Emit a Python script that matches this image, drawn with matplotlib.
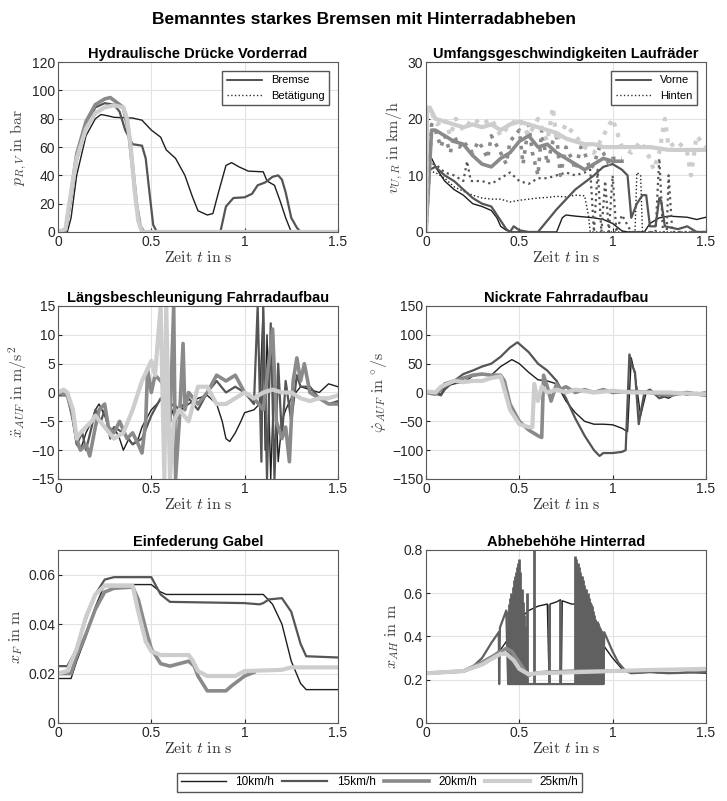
#!/usr/bin/env python3
import matplotlib
matplotlib.use('Agg')
import matplotlib.pyplot as plt
from matplotlib.lines import Line2D
import numpy as np

plt.rcParams['font.family'] = ['Liberation Sans', 'DejaVu Sans']
plt.rcParams['mathtext.fontset'] = 'cm'

# speeds (legend) and styling per run
speeds = ['10km/h', '15km/h', '20km/h', '25km/h']
colors = ['#1e1e1e', '#555555', '#8a8a8a', '#cdcdcd']
widths = [1.0, 1.6, 2.6, 3.0]

# --- Hydraulische Druecke Vorderrad (t, p in bar)
p10 = np.array([[0,0],[0.05,0],[0.07,10],[0.1,40],[0.15,68],[0.2,80],[0.23,83],[0.27,82],[0.3,81],
                [0.4,80.5],[0.45,79],[0.5,72],[0.55,67],[0.58,58],[0.63,52],[0.68,40],[0.72,25],
                [0.75,15],[0.8,12],[0.83,13],[0.86,28],[0.9,47],[0.93,49],[0.97,46],[1.02,43],
                [1.1,42.5],[1.12,36],[1.16,33],[1.19,22],[1.22,10],[1.25,0],[1.5,0]])
p15 = np.array([[0,0],[0.04,0],[0.06,15],[0.1,50],[0.15,75],[0.2,88],[0.25,91],[0.3,90],[0.33,85],
                [0.36,72],[0.38,67],[0.4,62],[0.45,61],[0.47,52],[0.49,28],[0.51,5],[0.53,0],
                [0.87,0],[0.9,18],[0.94,24],[1.0,24.5],[1.04,27],[1.07,33],[1.11,35],[1.15,39],
                [1.18,40],[1.2,37],[1.22,28],[1.25,10],[1.28,3],[1.3,0],[1.5,0]])
p20 = np.array([[0,0],[0.04,1],[0.06,18],[0.1,55],[0.15,78],[0.2,90],[0.25,94],[0.28,95],[0.32,91],
                [0.35,88],[0.38,70],[0.4,45],[0.42,20],[0.44,4],[0.46,0],[1.5,0]])
p25 = np.array([[0,0],[0.04,2],[0.06,20],[0.1,52],[0.15,73],[0.2,84],[0.25,88],[0.3,89.5],[0.35,88],
                [0.37,80],[0.39,60],[0.41,30],[0.43,8],[0.45,0],[1.5,0]])

# --- Umfangsgeschwindigkeiten (t, v in km/h), vorne / hinten
vv10 = np.array([[0,0],[0.01,13.5],[0.03,13],[0.06,11],[0.1,9],[0.15,7.5],[0.2,6.5],[0.25,5],[0.3,4.5],
                 [0.35,3.8],[0.38,2.5],[0.4,1],[0.43,0.3],[0.46,0],[0.7,0],[0.73,2.5],[0.75,3],[0.8,2.8],
                 [0.9,2.5],[0.95,2.2],[1.0,1.5],[1.05,0.2],[1.08,0],[1.17,0],[1.2,1.5],[1.25,2.5],
                 [1.3,2.8],[1.4,2.6],[1.45,2.2],[1.5,2.6]])
vh10 = np.array([[0,0],[0.01,10.8],[0.05,10.5],[0.1,9.5],[0.15,8],[0.2,7.2],[0.25,6.5],[0.3,6],[0.35,5.8],
                 [0.4,5.8],[0.45,5.3],[0.5,5.6],[0.55,5.8],[0.6,6],[0.65,6.1],[0.7,6.3],[0.75,6.2],
                 [0.8,6.5],[0.85,6.4],[0.87,3],[0.88,0],[1.12,0],[1.13,10.5],[1.15,10],[1.16,0],[1.5,0]])
vv15 = np.array([[0,0],[0.02,11],[0.05,11.5],[0.1,10],[0.15,9],[0.2,7.5],[0.25,6],[0.3,5],[0.35,4.5],
                 [0.4,2],[0.43,0.5],[0.45,0],[0.47,1],[0.5,0.3],[0.55,0],[0.6,0],[0.7,4],[0.8,7.5],
                 [0.9,10],[0.95,11.5],[1.0,12],[1.05,11],[1.08,10],[1.1,2.5],[1.13,5],[1.16,6.5],
                 [1.18,6.5],[1.2,1],[1.23,1],[1.25,6],[1.26,5.5],[1.28,1],[1.35,0.5],[1.4,1],[1.45,0],[1.5,0]])
vh15 = np.array([[0,0],[0.02,12],[0.05,12],[0.1,10.5],[0.15,10],[0.2,9],[0.22,12.5],[0.24,9],[0.3,9],
                 [0.35,8.5],[0.4,9.5],[0.45,10.5],[0.5,9],[0.55,8.5],[0.6,9.5],[0.65,9.5],[0.7,10],
                 [0.75,10.5],[0.8,10],[0.85,10.5],[0.88,11],[0.9,0],[0.92,11],[0.94,0],[0.96,9],[0.98,0],
                 [1.0,10],[1.02,0],[1.05,3],[1.1,0],[1.23,0],[1.25,13],[1.27,0],[1.29,0],[1.3,10],
                 [1.32,0],[1.5,0]])
vv20 = np.array([[0,0],[0.03,18],[0.05,18],[0.1,17],[0.15,16],[0.2,15.5],[0.25,13.5],[0.3,12],
                 [0.35,11.5],[0.4,13],[0.45,14],[0.5,16],[0.55,17],[0.6,15],[0.65,15.5],[0.7,14],
                 [0.75,13],[0.8,12],[0.85,11],[0.9,12],[0.95,13],[1.0,12.5],[1.05,12.5]])
vh20 = np.array([[0,0],[0.03,19],[0.05,18],[0.08,15],[0.1,17],[0.13,14],[0.15,17],[0.18,15],[0.2,16],
                 [0.25,14],[0.28,16],[0.3,15],[0.33,13],[0.35,17],[0.4,14],[0.43,12],[0.45,16],
                 [0.5,18],[0.52,12],[0.55,19],[0.57,14],[0.6,10],[0.62,18],[0.65,12],[0.68,16],
                 [0.7,17],[0.72,10],[0.75,15],[0.78,13],[0.8,11],[0.83,15],[0.85,14],[0.88,11],
                 [0.9,12],[0.93,15],[0.95,14],[0.98,12],[1.0,13],[1.05,13]])
vv25 = np.array([[0,0],[0.005,21],[0.02,22],[0.05,20],[0.1,19.5],[0.15,19],[0.2,18.5],[0.25,19],
                 [0.3,18.5],[0.35,19],[0.4,18],[0.45,19],[0.5,19.5],[0.55,19],[0.6,18.5],[0.65,18],
                 [0.7,17.5],[0.75,16.5],[0.8,16],[0.85,15.5],[0.9,15.5],[0.95,15],[1.0,15],[1.1,15],
                 [1.2,15],[1.3,14.5],[1.4,14.5],[1.5,14.5]])
vh25 = np.array([[0,0],[0.005,22],[0.03,21],[0.06,19],[0.1,20],[0.13,17],[0.16,20],[0.2,18],[0.25,20],
                 [0.3,19],[0.35,20],[0.4,17],[0.45,19],[0.5,20],[0.55,17],[0.6,20],[0.65,16],[0.68,22],
                 [0.7,16],[0.75,19],[0.8,17],[0.85,15],[0.9,14],[0.95,17],[1.0,20],[1.02,18],[1.05,15],
                 [1.1,14],[1.15,16],[1.2,13],[1.22,11],[1.25,14],[1.28,20],[1.3,15],[1.35,16],[1.4,14],
                 [1.42,10],[1.45,17],[1.5,15]])

# --- Laengsbeschleunigung (t, a in m/s^2)
a10 = np.array([[0,-0.5],[0.05,-0.5],[0.07,-3],[0.1,-9],[0.12,-10],[0.15,-7],[0.18,-5],[0.2,-3],
                [0.22,-2],[0.25,-4],[0.28,-7],[0.3,-6],[0.33,-8],[0.35,-10],[0.38,-8],[0.4,-9],
                [0.43,-8],[0.45,-6],[0.5,-3],[0.53,-2],[0.57,-0.5],[0.6,-2],[0.63,-5],[0.66,-3],
                [0.7,-2],[0.75,-1],[0.8,-0.5],[0.85,-2],[0.88,-5],[0.9,-8],[0.92,-8.5],[0.95,-7],
                [0.98,-5],[1.0,-3.5],[1.05,-3],[1.08,-2],[1.1,15],[1.11,-10],[1.12,10],[1.14,-15],
                [1.16,5],[1.18,-12],[1.2,-5],[1.22,-3],[1.25,-1],[1.3,1],[1.35,0.5],[1.4,0],
                [1.45,1.5],[1.5,1]])
a15 = np.array([[0,-0.5],[0.05,-0.5],[0.08,-5],[0.1,-9],[0.13,-7],[0.15,-10],[0.18,-6],[0.2,-3],
                [0.23,-5],[0.25,-3],[0.28,-8],[0.3,-6],[0.35,-7],[0.4,-9],[0.45,-8],[0.5,-4],
                [0.55,-1],[0.58,-3],[0.62,-2],[0.65,-3],[0.7,-1],[0.75,-3],[0.8,0],[0.85,2],[0.9,0],
                [0.95,1],[1.0,0],[1.05,-2],[1.07,15],[1.09,-12],[1.1,15],[1.12,-15],[1.14,12],
                [1.16,-15],[1.18,5],[1.2,-8],[1.22,2],[1.25,-5],[1.28,3],[1.3,1],[1.35,1],[1.4,-1],
                [1.45,-2],[1.5,-1.5]])
a20 = np.array([[0,0],[0.05,-0.5],[0.08,-4],[0.1,-8],[0.12,-10],[0.15,-9],[0.17,-11],[0.2,-6],
                [0.22,-3],[0.25,-2],[0.27,-6],[0.3,-7],[0.33,-5],[0.37,-8],[0.4,-7],[0.43,-9],
                [0.45,-10.5],[0.47,-5],[0.48,4],[0.5,0],[0.52,3],[0.55,2],[0.57,1],[0.6,-5],
                [0.62,15],[0.63,-15],[0.65,-5],[0.67,8.5],[0.68,-3],[0.7,0],[0.75,-2],[0.8,0],
                [0.85,3],[0.9,2],[0.95,3],[1.0,0],[1.05,-1],[1.1,-3],[1.15,11],[1.17,-5],[1.2,-8],
                [1.22,-6],[1.24,-12],[1.26,2],[1.28,6],[1.3,2],[1.32,5],[1.35,0],[1.4,-1],
                [1.45,-2],[1.5,-2]])
a25 = np.array([[0,0],[0.03,0.5],[0.05,0],[0.08,-3],[0.1,-8],[0.12,-7],[0.15,-6],[0.18,-5],
                [0.2,-4],[0.25,-6],[0.3,-8],[0.35,-7],[0.4,-3],[0.45,2],[0.5,5.5],[0.52,3],
                [0.55,15],[0.57,-15],[0.58,15],[0.6,-15],[0.62,-5],[0.65,-3],[0.7,-5],[0.75,1],
                [0.8,1],[0.85,-2],[0.9,-2],[0.95,-1],[1.0,0],[1.05,-1],[1.1,0],[1.15,0.5],[1.2,0],
                [1.25,0],[1.3,-1],[1.35,-1.5],[1.4,-1],[1.45,-1],[1.5,-0.5]])

# --- Nickrate (t, deg/s)
n10 = np.array([[0,0],[0.05,0],[0.08,-3],[0.1,10],[0.15,15],[0.2,18],[0.25,28],[0.3,32],[0.35,30],
                [0.4,45],[0.46,57],[0.5,50],[0.55,35],[0.6,22],[0.65,20],[0.7,15],[0.75,-15],
                [0.8,-35],[0.85,-50],[0.9,-55],[0.95,-55],[1.0,-56],[1.05,-62],[1.08,-68],[1.1,60],
                [1.12,30],[1.15,-40],[1.18,0],[1.2,5],[1.25,-5],[1.3,-10],[1.35,0],[1.4,-5],
                [1.45,0],[1.5,-2]])
n15 = np.array([[0,0],[0.05,-2],[0.08,-5],[0.1,5],[0.15,20],[0.2,32],[0.25,38],[0.3,45],[0.35,50],
                [0.4,62],[0.45,78],[0.49,87],[0.55,70],[0.6,50],[0.65,38],[0.7,20],[0.75,-10],
                [0.8,-45],[0.85,-75],[0.9,-100],[0.93,-110],[0.95,-105],[1.0,-105],[1.05,-103],
                [1.07,-100],[1.09,66],[1.1,50],[1.12,35],[1.14,-55],[1.17,0],[1.2,5],[1.25,-10],
                [1.3,-5],[1.35,0],[1.4,-3],[1.5,0]])
n20 = np.array([[0,0],[0.05,-3],[0.08,5],[0.1,15],[0.15,20],[0.2,25],[0.25,30],[0.3,32],[0.35,30],
                [0.4,30],[0.42,20],[0.45,-20],[0.5,-50],[0.55,-65],[0.6,-75],[0.62,-78],[0.63,30],
                [0.65,10],[0.67,-15],[0.7,15],[0.72,5],[0.75,10],[0.8,0],[0.85,5],[0.9,0],[0.95,5],
                [1.0,0],[1.1,2],[1.2,0],[1.3,-5],[1.4,0],[1.5,-5]])
n25 = np.array([[0,2],[0.05,0],[0.08,10],[0.15,20],[0.2,18],[0.25,20],[0.3,20],[0.35,25],[0.4,28],
                [0.42,5],[0.45,-30],[0.5,-55],[0.55,-60],[0.57,-60],[0.58,15],[0.6,-15],[0.62,10],
                [0.65,0],[0.7,5],[0.75,0],[0.8,5],[0.9,0],[1.0,3],[1.1,0],[1.2,0],[1.3,0],[1.4,-2],
                [1.5,-3]])

# --- Einfederung Gabel (t, x_F in m)
f10 = np.array([[0,0.018],[0.07,0.018],[0.1,0.025],[0.15,0.035],[0.2,0.047],[0.25,0.056],[0.3,0.056],
                [0.5,0.056],[0.55,0.053],[0.58,0.052],[1.0,0.052],[1.1,0.052],[1.15,0.048],[1.2,0.04],
                [1.25,0.025],[1.3,0.016],[1.33,0.0135],[1.5,0.0135]])
f15 = np.array([[0,0.023],[0.05,0.023],[0.1,0.03],[0.15,0.042],[0.2,0.052],[0.25,0.058],[0.3,0.059],
                [0.5,0.059],[0.55,0.052],[0.6,0.049],[1.0,0.0485],[1.08,0.048],[1.1,0.0485],
                [1.13,0.05],[1.2,0.0505],[1.25,0.045],[1.3,0.032],[1.33,0.027],[1.5,0.0265]])
f20 = np.array([[0,0.02],[0.07,0.02],[0.1,0.027],[0.15,0.036],[0.2,0.046],[0.25,0.053],[0.3,0.0545],
                [0.4,0.055],[0.43,0.05],[0.47,0.038],[0.5,0.03],[0.55,0.024],[0.6,0.023],[0.65,0.024],
                [0.7,0.025],[0.73,0.023],[0.75,0.019],[0.8,0.013],[0.9,0.013],[0.93,0.015],
                [1.0,0.019],[1.05,0.0205]])
f25 = np.array([[0,0.02],[0.05,0.021],[0.1,0.03],[0.15,0.043],[0.2,0.052],[0.25,0.0555],[0.3,0.0555],
                [0.4,0.0555],[0.43,0.045],[0.47,0.033],[0.5,0.029],[0.55,0.0275],[0.7,0.0275],
                [0.72,0.0255],[0.75,0.021],[0.8,0.019],[0.95,0.019],[1.0,0.021],[1.2,0.0215],
                [1.25,0.0225],[1.5,0.0225]])

# --- Abhebehoehe Hinterrad (t, x_AH in m)
h10 = np.array([[0,0.23],[0.2,0.235],[0.3,0.27],[0.4,0.34],[0.45,0.4],[0.5,0.48],[0.55,0.52],
                [0.6,0.54],[0.65,0.55],[0.66,0.18],[0.665,0.55],[0.7,0.56],[0.72,0.57],[0.725,0.18],
                [0.73,0.565],[0.78,0.55],[0.8,0.55],[0.85,0.5],[0.9,0.42],[0.95,0.36],[1.0,0.3],
                [1.05,0.25],[1.1,0.23],[1.2,0.235],[1.3,0.23],[1.4,0.235],[1.5,0.23]])
h15 = np.array([[0,0.23],[0.2,0.24],[0.25,0.26],[0.3,0.3],[0.35,0.37],[0.39,0.42],[0.392,0.18],
                [0.396,0.44],[0.4,0.45],[0.43,0.52],[0.44,0.18],[0.95,0.18],[0.955,0.42],[1.0,0.33],
                [1.03,0.28],[1.07,0.24],[1.1,0.23],[1.2,0.235],[1.3,0.23],[1.5,0.235]])
# bouncing of the rear wheel: spike times and peak heights, floor at 0.18
bounce_t = [0.44,0.446,0.452,0.458,0.464,0.47,0.476,0.482,0.488,0.494,0.5,0.506,0.512,0.518,0.524,
            0.53,0.54,0.58,0.66,0.72,0.8,0.806,0.812,0.818,0.824,0.83,0.836,0.842,0.848,0.854,
            0.86,0.866,0.872,0.878,0.884,0.89,0.896,0.902,0.908,0.914,0.92,0.926,0.932,0.938,
            0.944,0.95]
bounce_h = [0.52,0.55,0.58,0.6,0.63,0.66,0.68,0.7,0.72,0.74,0.76,0.7,0.62,0.56,0.5,0.45,0.6,0.8,
            0.55,0.57,0.77,0.76,0.74,0.72,0.7,0.68,0.68,0.66,0.64,0.62,0.62,0.6,0.58,0.56,0.55,
            0.54,0.52,0.5,0.48,0.47,0.46,0.45,0.44,0.43,0.42,0.4]
bounce_floor = 0.18
h20 = np.array([[0,0.23],[0.2,0.24],[0.3,0.28],[0.4,0.33],[0.43,0.345],[0.46,0.33],[0.5,0.28],
                [0.53,0.24],[0.55,0.22],[0.58,0.23],[0.65,0.235],[0.8,0.24],[1.0,0.24],[1.05,0.24]])
h25 = np.array([[0,0.23],[0.2,0.24],[0.3,0.27],[0.4,0.32],[0.43,0.32],[0.47,0.29],[0.5,0.25],
                [0.55,0.225],[0.6,0.23],[0.8,0.235],[1.0,0.24],[1.2,0.245],[1.5,0.25]])


def setup(ax, title, ylabel, ylim, yticks):
    ax.set_title(title, fontsize=10.5, fontweight='bold', pad=3)
    ax.set_xlim(0, 1.5)
    ax.set_ylim(*ylim)
    ax.set_xticks([0, 0.5, 1, 1.5])
    ax.set_xticklabels(['0', '0.5', '1', '1.5'])
    ax.set_yticks(yticks)
    ax.grid(True, color='#e3e3e3', lw=0.8)
    ax.set_axisbelow(True)
    ax.tick_params(direction='in', length=3, labelsize=10, colors='#262626', pad=2)
    for s in ax.spines.values():
        s.set_color('#5a5a5a')
        s.set_linewidth(0.8)
    ax.set_xlabel(r'$\mathrm{Zeit}\ t\ \mathrm{in\ s}$', fontsize=11.5, color='#333333', labelpad=1)
    ax.set_ylabel(ylabel, fontsize=11.5, color='#444444', labelpad=2)


fig = plt.figure(figsize=(7.27, 8.01), dpi=100)
fig.suptitle('Bemanntes starkes Bremsen mit Hinterradabheben', fontsize=12.5, fontweight='bold', y=0.985)

L, R, W = 0.0798, 0.586, 0.385
ax1 = fig.add_axes([L, 0.7104, W, 0.212])
ax2 = fig.add_axes([R, 0.7104, W, 0.212])
ax3 = fig.add_axes([L, 0.402, W, 0.216])
ax4 = fig.add_axes([R, 0.402, W, 0.216])
ax5 = fig.add_axes([L, 0.0974, W, 0.216])
ax6 = fig.add_axes([R, 0.0974, W, 0.216])

# 1 pressures
for d, c, w in zip([p10, p15, p20, p25], colors, widths):
    ax1.plot(d[:, 0], d[:, 1], color=c, lw=w)
setup(ax1, 'Hydraulische Drücke Vorderrad', r'$p_{R,V}\ \mathrm{in\ bar}$', (0, 120), range(0, 121, 20))
ax1.legend([Line2D([], [], color='#333333', lw=1.2), Line2D([], [], color='#333333', lw=1, ls=':')],
           ['Bremse', 'Betätigung'], loc='upper right', fontsize=8, fancybox=False,
           edgecolor='#555555', framealpha=1, handlelength=3.2, borderaxespad=0.8)

# 2 wheel speeds
for dv, dh, c, w in zip([vv10, vv15, vv20, vv25], [vh10, vh15, vh20, vh25], colors, widths):
    ax2.plot(dh[:, 0], dh[:, 1], color=c, lw=w, ls=':')
    ax2.plot(dv[:, 0], dv[:, 1], color=c, lw=w)
setup(ax2, 'Umfangsgeschwindigkeiten Laufräder', r'$v_{U,R}\ \mathrm{in\ km/h}$', (0, 30), [0, 10, 20, 30])
ax2.legend([Line2D([], [], color='#333333', lw=1.2), Line2D([], [], color='#333333', lw=1, ls=':')],
           ['Vorne', 'Hinten'], loc='upper right', fontsize=8, fancybox=False,
           edgecolor='#555555', framealpha=1, handlelength=3.2, borderaxespad=0.8)

# 3 acceleration
for d, c, w in zip([a10, a15, a20, a25], colors, widths):
    ax3.plot(d[:, 0], d[:, 1], color=c, lw=w)
setup(ax3, 'Längsbeschleunigung Fahrradaufbau', r'$\ddot{x}_{AUF}\ \mathrm{in\ m/s^2}$', (-15, 15),
      range(-15, 16, 5))

# 4 pitch rate
for d, c, w in zip([n10, n15, n20, n25], colors, widths):
    ax4.plot(d[:, 0], d[:, 1], color=c, lw=w)
setup(ax4, 'Nickrate Fahrradaufbau', r'$\dot{\varphi}_{AUF}\ \mathrm{in}\ ^{\circ}/\mathrm{s}$', (-150, 150),
      range(-150, 151, 50))

# 5 fork travel
for d, c, w in zip([f10, f15, f20, f25], colors, widths):
    ax5.plot(d[:, 0], d[:, 1], color=c, lw=w)
setup(ax5, 'Einfederung Gabel', r'$x_F\ \mathrm{in\ m}$', (0, 0.07), [0, 0.02, 0.04, 0.06])
ax5.set_yticklabels(['0', '0.02', '0.04', '0.06'])

# 6 rear wheel lift
ax6.plot(h10[:, 0], h10[:, 1], color=colors[0], lw=widths[0])
ax6.plot(h15[:, 0], h15[:, 1], color='#606060', lw=widths[1])
ax6.vlines(bounce_t, bounce_floor, bounce_h, color='#606060', lw=2.0)
ax6.plot(h20[:, 0], h20[:, 1], color=colors[2], lw=widths[2])
ax6.plot(h25[:, 0], h25[:, 1], color=colors[3], lw=widths[3])
setup(ax6, 'Abhebehöhe Hinterrad', r'$x_{AH}\ \mathrm{in\ m}$', (0, 0.8), [0, 0.2, 0.4, 0.6, 0.8])
ax6.set_yticklabels(['0', '0.2', '0.4', '0.6', '0.8'])

handles = [Line2D([], [], color=c, lw=w) for c, w in zip(colors, widths)]
fig.legend(handles, speeds, loc='lower center', bbox_to_anchor=(0.522, 0.004), ncol=4, fontsize=8.5,
           fancybox=False, edgecolor='#555555', framealpha=1, handlelength=3.8, columnspacing=0.7,
           borderpad=0.3)

fig.savefig('out.png', dpi=100)
